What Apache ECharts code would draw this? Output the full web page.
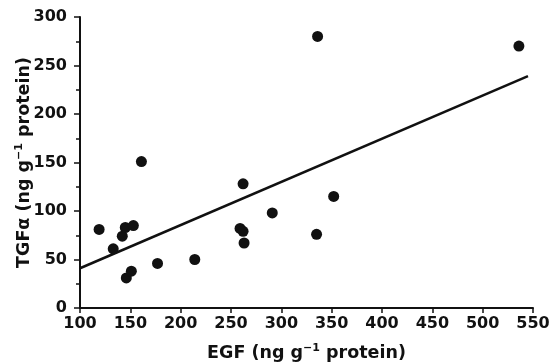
<!DOCTYPE html>
<html>
<head>
<meta charset="utf-8">
<style>
  html, body { margin: 0; padding: 0; background: #fff; }
  #chart { width: 549px; height: 364px; }
</style>
<script src="https://cdn.jsdelivr.net/npm/echarts@6/dist/echarts.min.js"></script>
</head>
<body>
<div id="chart"></div>
<script>
// EGF vs TGFa
const egf = [119, 133, 142, 145, 146, 151, 153, 161, 177, 214, 259, 262, 262, 263, 291, 335, 336, 352, 536]
const tgf = [81, 61, 74, 83, 31, 38, 85, 151, 46, 50, 82, 79, 128, 67, 98, 76, 280, 115, 270]

// regression line ends
const fitX = [100, 545]
const fitY = [41, 239]

const xTicks = [100, 150, 200, 250, 300, 350, 400, 450, 500, 550]
const yTicks = [0, 50, 100, 150, 200, 250, 300]

const font = 'DejaVu Sans, sans-serif'
const ink = '#111'

const chart = echarts.init(document.getElementById('chart'))

const titleRich = {
  a: { fontSize: 17.5, fontWeight: 'bold', color: ink, fontFamily: font },
  sup: { fontSize: 11, fontWeight: 'bold', color: ink, fontFamily: font, verticalAlign: 'top', padding: [0, 0, 9, 0] }
}

chart.setOption({
  animation: false,
  backgroundColor: '#fff',
  grid: { left: 80, right: 16, top: 17, bottom: 56, containLabel: false, outerBoundsMode: 'none' },
  xAxis: {
    type: 'value',
    min: xTicks[0],
    max: xTicks[xTicks.length - 1],
    interval: 50,
    name: '{a|EGF (ng g}{sup|−1}{a| protein)}',
    nameLocation: 'middle',
    nameGap: 35,
    nameMoveOverlap: false,
    nameTextStyle: { rich: titleRich },
    axisLine: { lineStyle: { color: ink, width: 2 } },
    axisTick: { length: 5, lineStyle: { color: ink, width: 1.5 } },
    axisLabel: { fontSize: 16, fontWeight: 'bold', color: ink, fontFamily: font, margin: 8 },
    splitLine: { show: false }
  },
  yAxis: {
    type: 'value',
    min: yTicks[0],
    max: yTicks[yTicks.length - 1],
    interval: 50,
    name: '{a|TGFα (ng g}{sup|−1}{a| protein)}',
    nameLocation: 'middle',
    nameGap: 46,
    nameMoveOverlap: false,
    nameTextStyle: { rich: titleRich },
    axisLine: { show: true, lineStyle: { color: ink, width: 2 } },
    axisTick: { length: 6, lineStyle: { color: ink, width: 1.5 } },
    minorTick: { show: true, splitNumber: 2, length: 4, lineStyle: { color: ink, width: 1.5 } },
    axisLabel: { fontSize: 16, fontWeight: 'bold', color: ink, fontFamily: font, margin: 13 },
    splitLine: { show: false }
  },
  series: [
    {
      type: 'line',
      data: fitX.map((x, i) => [x, fitY[i]]),
      symbol: 'none',
      lineStyle: { color: ink, width: 2.5 },
      z: 2
    },
    {
      type: 'scatter',
      data: egf.map((x, i) => [x, tgf[i]]),
      symbolSize: 11,
      itemStyle: { color: ink, opacity: 1 },
      z: 3
    }
  ]
})
</script>
</body>
</html>
